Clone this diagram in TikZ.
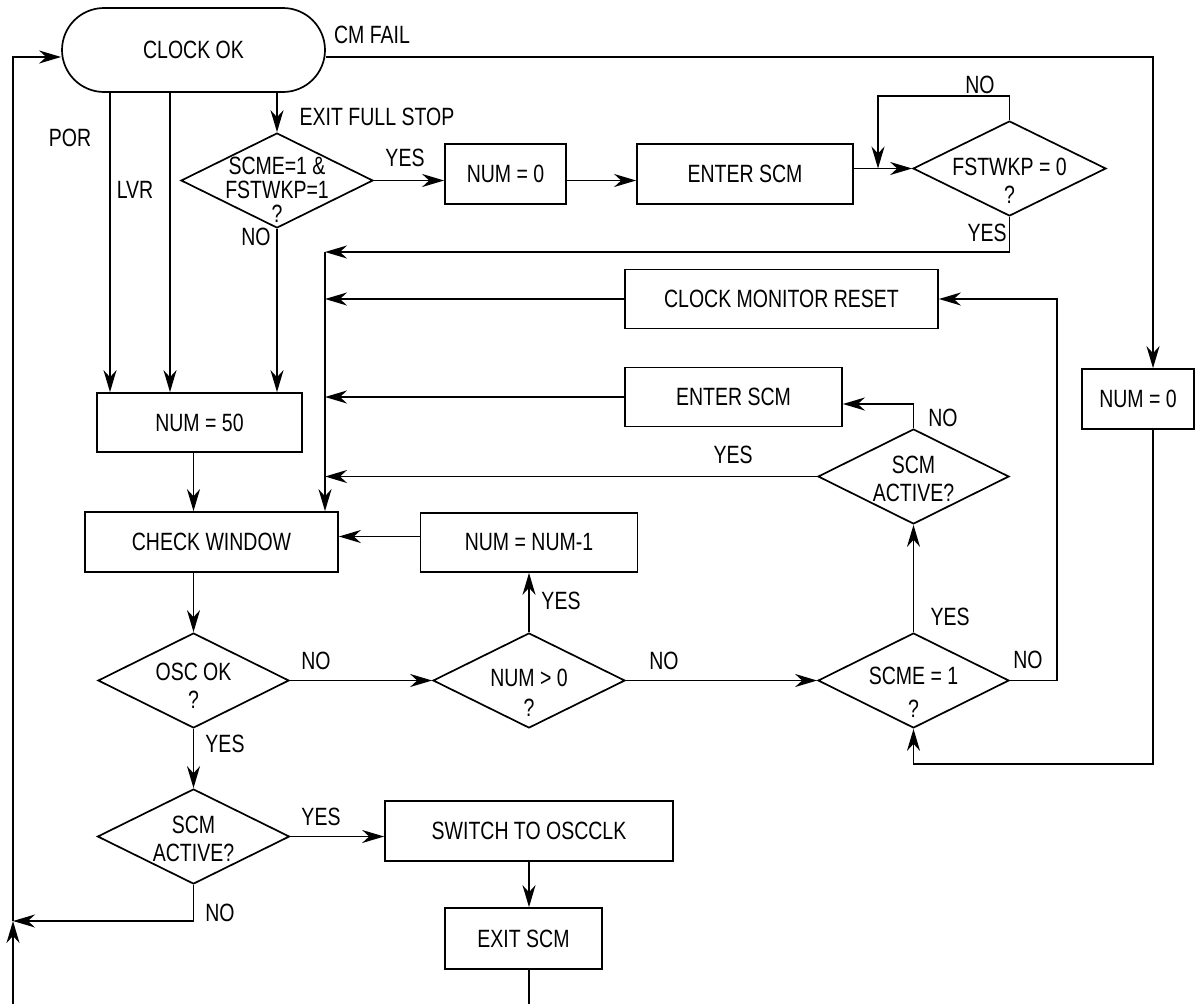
\documentclass[tikz,border=0pt]{standalone}
\usepackage{fontspec}
\setmainfont{Liberation Sans}[FakeStretch=0.78]
\usepackage{tikz}
\usetikzlibrary{arrows.meta,shapes.geometric,positioning}
\newcommand{\dectext}[2][-13pt]{\raisebox{#1}[0pt][0pt]{\makebox[0pt]{\begin{tabular}{@{}c@{}}#2\end{tabular}}}}

\begin{document}
\begin{tikzpicture}[x=1pt, y=-1pt, line width=1.7pt,
    every node/.style={font=\fontsize{25}{28}\selectfont},
    box/.style={draw, rectangle, inner sep=0pt},
    terminal/.style={draw, rectangle, rounded corners=42pt, inner sep=0pt, minimum width=263pt, minimum height=84pt},
    decision/.style={draw, diamond, aspect=2, inner sep=0pt, minimum width=192pt, minimum height=95pt},
    lab/.style={inner sep=0pt},
    arr/.style={-{Stealth[length=22pt,width=13pt,inset=7pt]}}]
  \useasboundingbox (0,0) rectangle (1196,1004);

  \node[terminal] (clockok) at (193.5,50) {CLOCK OK};
  \node[decision] (fullstop) at (277,180.5) {\def\arraystretch{0.78}\dectext[-19pt]{SCME=1 \&\\FSTWKP=1\\?}};
  \node[box, minimum width=121pt, minimum height=60pt] (numzero) at (505.5,174) {NUM = 0};
  \node[box, minimum width=216pt, minimum height=60pt] (enterscm) at (745,174) {ENTER SCM};
  \node[decision, minimum width=193pt] (fstwkp) at (1009.5,168.5) {\dectext[-22pt]{FSTWKP = 0\\?}};
  \node[box, minimum width=313pt, minimum height=59pt] (cmreset) at (781.5,299) {CLOCK MONITOR RESET};
  \node[box, minimum width=217pt, minimum height=59pt] (reenter) at (733.5,397) {ENTER SCM};
  \node[decision, minimum width=191pt] (scmactive) at (913.5,476.5) {\dectext[-11.5pt]{SCM\\ACTIVE?}};
  \node[box, minimum width=112pt, minimum height=60pt] (numzerob) at (1138,399) {NUM = 0};
  \node[box, minimum width=205pt, minimum height=59pt] (numfifty) at (199.5,422.5) {NUM = 50};
  \node[box, minimum width=253pt, minimum height=60pt] (checkwin) at (211.5,542) {CHECK WINDOW};
  \node[box, minimum width=217pt, minimum height=59pt] (numdec) at (529,542.5) {NUM = NUM-1};
  \node[decision, minimum width=191pt] (oscok) at (193.5,680.5) {\dectext[-15pt]{OSC OK\\?}};
  \node[decision] (numpos) at (529,680.5) {\dectext[-22pt]{NUM > 0\\[2pt]?}};
  \node[decision, minimum width=191pt] (scmeone) at (913.5,680.5) {\dectext[-21pt]{SCME = 1\\[5pt]?}};
  \node[decision] (activeq) at (193.5,836.5) {\dectext[-11.5pt]{SCM\\ACTIVE?}};
  \node[box, minimum width=288pt, minimum height=60pt] (switchosc) at (529,831) {SWITCH TO OSCCLK};
  \node[box, minimum width=157pt, minimum height=61pt] (exitscm) at (523.5,938.5) {EXIT SCM};

  \coordinate (cmturn) at (1153,57);
  \coordinate (noloop) at (878,96);
  \coordinate (mergetop) at (325,252);
  \coordinate (rturn) at (1057,299);
  \coordinate (bturn) at (913.5,764);
  \coordinate (ljoin) at (13,921);
  \coordinate (lbottom) at (13,1004);
  \coordinate (xbottom) at (529,1004);

  \node[lab] (cmfail) at (372,35) {CM FAIL};
  \node[lab] (por) at (70,138) {POR};
  \node[lab] (lvr) at (135,190) {LVR};
  \node[lab] (exitfs) at (377,117) {EXIT FULL STOP};
  \foreach \n/\x/\y/\t in {yfull/405/158/YES, nfull/256/237/NO, nfst/980/85/NO, yfst/987/233/YES,
      yact/733/455/YES, nact/943/418/NO, yscme/950/617/YES, nscme/1028/660/NO,
      ypos/561/601/YES, npos/664/661/NO, nosc/316/661/NO, yosc/225/744/YES,
      yactq/321/817/YES, nactq/220/913/NO}
    {\node[lab] (\n) at (\x,\y) {\t};}

  \draw[arr] (lbottom) -- (ljoin);
  \draw[arr] (ljoin) |- ([yshift=-7pt]clockok.west);
  \draw[arr] ([yshift=-7pt]clockok.east) -- (cmturn) -- (cmturn |- numzerob.north);
  \foreach \x in {110,170}{\draw[arr] (clockok.south -| \x,0) -- (numfifty.north -| \x,0);}
  \draw[arr] (clockok.south -| fullstop) -- (fullstop.north);
  \draw[arr] (fullstop.south) -- (fullstop.south |- numfifty.north);
  \draw[arr] (fullstop.east) -- (fullstop -| numzero.west);
  \draw[arr] (numzero.east |- fullstop) -- (fullstop -| enterscm.west);
  \draw[arr] (enterscm.east |- fstwkp) -- (fstwkp.west);
  \draw[arr] (fstwkp.north) |- (noloop) -- (noloop |- fstwkp);
  \draw[arr] (fstwkp.south) |- (mergetop);
  \draw[arr] (mergetop) -- (mergetop |- checkwin.north);
  \foreach \n in {cmreset,reenter,scmactive}{\draw[arr] (\n.west) -- (\n.west -| mergetop);}
  \draw[arr] (scmactive.north) |- ([yshift=-7pt]reenter.east);
  \draw[arr] (scmeone.east) -| (rturn) -- (cmreset.east);
  \draw[arr] (cmturn |- numzerob.south) |- (bturn) -- (scmeone.south);
  \draw[arr] (numfifty.south -| oscok) -- (checkwin.north -| oscok);
  \draw[arr] ([yshift=6pt]numdec.west) -- ([yshift=6pt]numdec.west -| checkwin.east);
  \draw[arr] (checkwin.south -| oscok) -- (oscok.north);
  \foreach \x/\y in {oscok/numpos,numpos/scmeone,numpos/numdec,scmeone/scmactive,oscok/activeq}{\draw[arr] (\x) -- (\y);}
  \draw[arr] (activeq.east) -- (activeq -| switchosc.west);
  \draw[arr] (switchosc.south) -- (switchosc.south |- exitscm.north);
  \draw (switchosc.south |- exitscm.south) -- (xbottom);
  \draw[arr] (activeq.south) |- (ljoin);
\end{tikzpicture}
\end{document}
